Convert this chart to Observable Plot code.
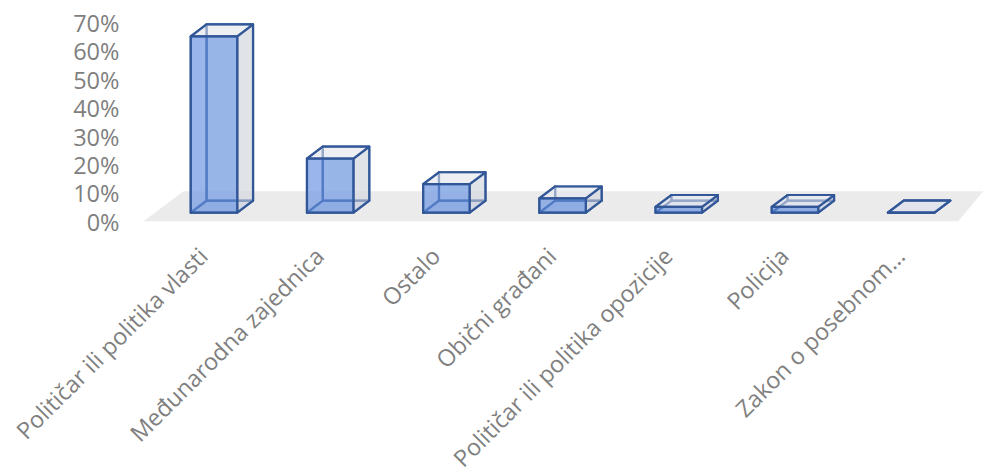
<!DOCTYPE html>
<html>
<head>
<meta charset="utf-8">
<script src="https://cdn.jsdelivr.net/npm/d3@7"></script>
<script src="https://cdn.jsdelivr.net/npm/@observablehq/plot@0.6"></script>
<style>html,body{margin:0;padding:0;background:#fff}svg{display:block}</style>
</head>
<body>
<div id="chart"></div>
<script>
const categories = ["Političar ili politika vlasti","Međunarodna zajednica","Ostalo","Obični građani","Političar ili politika opozicije","Policija","Zakon o posebnom…"];
const values = [62, 19, 10, 5, 2, 2, 0];
const yTicks = [0, 10, 20, 30, 40, 50, 60, 70];

// perspective parameters, in scale units
const halfW = 0.2, depthX = 0.136, depthY = 4.2, lift = 3.75;
const floorCorners = [[-0.607, 0.7], [-0.262, 11.25], [6.62, 11.25], [6.405, 0.7], [-0.607, 0.7]];

function face(kind) {
  const out = [];
  values.forEach((v, i) => {
    const x0 = i - halfW, x1 = i + halfW, y0 = lift, y1 = lift + v;
    const X0 = x0 + depthX, X1 = x1 + depthX, Y0 = y0 + depthY, Y1 = y1 + depthY;
    const poly = {
      bottom: [[x0,y0],[x1,y0],[X1,Y0],[X0,Y0]],
      back:   [[X0,Y0],[X1,Y0],[X1,Y1],[X0,Y1]],
      left:   [[x0,y0],[X0,Y0],[X0,Y1],[x0,y1]],
      right:  [[x1,y0],[X1,Y0],[X1,Y1],[x1,y1]],
      top:    [[x0,y1],[x1,y1],[X1,Y1],[X0,Y1]],
      front:  [[x0,y0],[x1,y0],[x1,y1],[x0,y1]]
    }[kind];
    [...poly, poly[0]].forEach(p => out.push({bar: i, x: p[0], y: p[1]}));
  });
  return out;
}
const blue = "#2f5597";
const faceMark = (kind, fill, fillOpacity) => Plot.line(face(kind), {
  x: "x", y: "y", z: "bar", fill, fillOpacity, stroke: blue, strokeWidth: 2.2,
  strokeOpacity: 0.95, strokeLinejoin: "round", curve: "linear"
});

const chart = Plot.plot({
  width: 983, height: 467,
  marginLeft: 121, marginTop: 0, marginRight: 0, marginBottom: 0,
  style: {background: "#fff", fontFamily: "'Open Sans', sans-serif"},
  x: {type: "linear", domain: [-0.5, 6.5], range: [155.4, 968.8], axis: null},
  y: {type: "linear", domain: [0, 70], range: [222.8, 23.8], axis: null},
  marks: [
    Plot.line(floorCorners, {x: d => d[0], y: d => d[1], fill: "#ebebeb", stroke: "none", curve: "linear"}),
    Plot.axisY({ticks: yTicks, anchor: "left", label: null, tickSize: 0, tickPadding: 2,
      tickFormat: d => d + "%", fontSize: 23.5, color: "#7f7f7f", fill: "#7f7f7f"}),
    faceMark("bottom", "#c9d2e6", 0.5),
    faceMark("back", "#e4e6ec", 0.4),
    faceMark("left", "#e4e6ec", 0.3),
    faceMark("right", "#d0d3dc", 0.55),
    faceMark("top", "#e8e9f0", 0.55),
    faceMark("front", "#6490e0", 0.64),
    Plot.text(categories, {
      x: (d, i) => i - 0.085, y: () => -10.3, text: d => d, rotate: -45, textAnchor: "end",
      fontSize: 23.3, fill: "#7f7f7f"
    })
  ]
});
document.getElementById("chart").append(chart);
</script>
</body>
</html>
